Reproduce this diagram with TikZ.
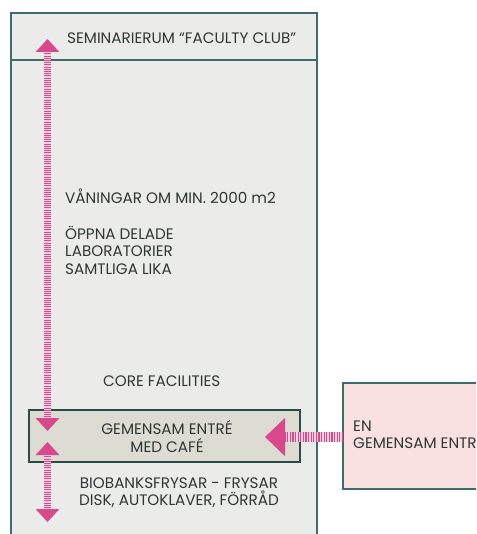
\documentclass[tikz,border=0pt]{standalone}
\usepackage{fontspec}
\setmainfont{Poppins}
\usetikzlibrary{arrows.meta}
\definecolor{bgrey}{HTML}{EBEBE9}
\definecolor{tealb}{HTML}{3E6B6B}
\definecolor{gembox}{HTML}{DCDCD3}
\definecolor{gemline}{HTML}{2C4C4A}
\definecolor{pinkbox}{HTML}{F9E1E1}
\definecolor{arrowpink}{HTML}{D9488A}
\definecolor{arrowlight}{HTML}{F6D3E2}
\definecolor{txt}{HTML}{2E3836}
\tikzset{
  lbl/.style={font=\fontsize{15.2}{17.5}\selectfont, text=txt, inner sep=0pt, align=left},
  clbl/.style={font=\fontsize{15.2}{17.5}\selectfont, text=txt, inner sep=0pt, align=center},
  vunder/.style={draw=arrowlight, line width=6.5pt},
  hunder/.style={draw=arrowlight, line width=10pt},
  vconn/.style={draw=arrowpink, line width=6.5pt, dash pattern=on 1pt off 1.2pt,
    {Triangle[width=23pt,length=13pt]}-{Triangle[width=23pt,length=13pt]}},
  hconn/.style={draw=arrowpink, line width=10pt, dash pattern=on 1.3pt off 1.3pt,
    -{Triangle[width=37pt,length=20pt]}},
}
\begin{document}
\begin{tikzpicture}[x=1pt,y=-1pt]
\useasboundingbox (0,0) rectangle (476,534);
\clip (0,0) rectangle (476,534);
\fill[white] (0,0) rectangle (476,534);
% main building
\draw[draw=tealb, fill=bgrey, line width=2pt] (11,13) rectangle (317,560);
\draw[draw=tealb, line width=2pt] (11,60) -- (317,60);
% pink box
\draw[draw=tealb, fill=pinkbox, line width=1.8pt] (343,383) rectangle (520,489);
% gemensam box
\draw[draw=gemline, fill=gembox, line width=1.6pt] (29,410) rectangle (300,462);
% texts
\node[lbl, anchor=west] (sem) at (67,38) {SEMINARIERUM “FACULTY CLUB”};
\node[lbl, anchor=west] (van) at (65,196) {VÅNINGAR OM MIN. 2000 m2};
\node[lbl, anchor=west] (opp) at (65,250) {ÖPPNA DELADE\\LABORATORIER\\SAMTLIGA LIKA};
\node[lbl, anchor=west] (core) at (103,381) {CORE FACILITIES};
\node[clbl] (gem) at (167,436.5) {GEMENSAM ENTRÉ\\MED CAFÉ};
\node[clbl] (bio) at (179,492.5) {BIOBANKSFRYSAR - FRYSAR\\DISK, AUTOKLAVER, FÖRRÅD};
\node[lbl, anchor=west] (en) at (353,434.5) {EN\\GEMENSAM ENTRÉ};
% connector end points
\coordinate (vtop) at (47.5,39);
\coordinate (vtopb) at (47.5,52);
\coordinate (vmid) at (47.5,431);
\coordinate (vmidb) at (47.5,418);
\coordinate (vmid2) at (47.5,442);
\coordinate (vmid2b) at (47.5,455);
\coordinate (vbot) at (47.5,522);
\coordinate (vbotb) at (47.5,509);
\coordinate (hsrc) at (343,437);
\coordinate (htip) at (265,437);
\coordinate (htipb) at (285,437);
\draw[vunder] (vtopb) -- (vmidb);
\draw[vunder] (vmid2b) -- (vbotb);
\draw[hunder] (hsrc) -- (htipb);
\draw[vconn] (vtop) -- (vmid);
\draw[vconn] (vmid2) -- (vbot);
\draw[hconn] (hsrc) -- (htip);
\end{tikzpicture}
\end{document}
